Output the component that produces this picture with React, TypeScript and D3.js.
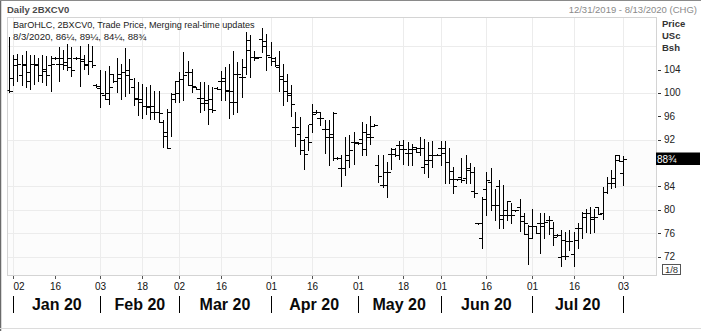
import React from "react";
import * as d3 from "d3";

// ---- categories: trading days (month -> day numbers) ----
const dec2019 = [31];
const jan2020 = [2, 3, 6, 7, 8, 9, 10, 13, 14, 15, 16, 17, 21, 22, 23, 24, 27, 28, 29, 30, 31];
const feb2020 = [3, 4, 5, 6, 7, 10, 11, 12, 13, 14, 18, 19, 20, 21, 24, 25, 26, 27, 28];
const mar2020 = [2, 3, 4, 5, 6, 9, 10, 11, 12, 13, 16, 17, 18, 19, 20, 23, 24, 25, 26, 27, 30, 31];
const apr2020 = [1, 2, 3, 6, 7, 8, 9, 13, 14, 15, 16, 17, 20, 21, 22, 23, 24, 27, 28, 29, 30];
const may2020 = [1, 4, 5, 6, 7, 8, 11, 12, 13, 14, 15, 18, 19, 20, 21, 22, 26, 27, 28, 29];
const jun2020 = [1, 2, 3, 4, 5, 8, 9, 10, 11, 12, 15, 16, 17, 18, 19, 22, 23, 24, 25, 26, 29, 30];
const jul2020 = [1, 2, 6, 7, 8, 9, 10, 13, 14, 15, 16, 17, 20, 21, 22, 23, 24, 27, 28, 29, 30, 31];
const aug2020 = [3];

const pad = (n: number) => (n < 10 ? "0" + n : "" + n);
const tradingDates: string[] = [
  ...dec2019.map((d) => `2019-12-${pad(d)}`),
  ...jan2020.map((d) => `2020-01-${pad(d)}`),
  ...feb2020.map((d) => `2020-02-${pad(d)}`),
  ...mar2020.map((d) => `2020-03-${pad(d)}`),
  ...apr2020.map((d) => `2020-04-${pad(d)}`),
  ...may2020.map((d) => `2020-05-${pad(d)}`),
  ...jun2020.map((d) => `2020-06-${pad(d)}`),
  ...jul2020.map((d) => `2020-07-${pad(d)}`),
  ...aug2020.map((d) => `2020-08-${pad(d)}`),
];

// ---- OHLC series ----
const openVals = [
  100.5, 102.5, 105.8, 103.0, 104.9, 102.1, 104.9, 104.8, 103.0, 103.7, 104.8,
  106.0, 105.0, 106.0, 104.7, 104.4, 106.0, 106.0, 105.4, 104.7, 105.5,
  101.3, 100.8, 99.6, 99.9, 103.2, 102.1, 103.3, 103.6, 103.1, 101.0,
  99.1, 98.4, 97.8, 97.75, 96.8, 96.7, 95.0, 92.7, 96.8, 99.8,
  102.1, 102.3, 103.6, 101.3, 101.0, 99.1, 98.2, 98.7, 97.2, 100.9,
  102.1, 102.1, 100.4, 98.4, 103.3, 102.7, 104.5, 109.0, 106.1, 106.1,
  109.3, 108.0, 106.1, 105.97, 104.4, 102.9, 101.97, 99.7, 94.15, 93.0,
  92.0, 92.5, 94.7, 96.8, 95.7, 93.75, 92.44, 93.0, 88.9, 87.13,
  87.13, 89.3, 91.58, 91.5, 92.15, 93.3, 92.44, 94.4, 87.6, 84.16,
  86.45, 89.6, 90.44, 91.0, 90.44, 89.76, 90.44, 90.73, 90.5, 87.25,
  88.5, 89.4, 89.4, 90.5, 90.5, 88.22, 85.2, 85.2, 85.65, 85.37,
  87.08, 83.26, 77.7, 75.1, 83.5, 84.8, 80.8, 84.06, 78.5, 80.0,
  79.1, 79.9, 80.4, 78.9, 75.8, 77.2, 77.2, 77.7, 77.2, 78.2,
  76.8, 75.67, 72.0, 74.8, 74.7, 72.4, 76.8, 76.8, 78.8, 79.4,
  78.5, 80.4, 79.4, 83.1, 84.6, 85.5, 89.37, 86.25,
];
const highVals = [
  109.5, 106.4, 106.7, 106.4, 107.1, 106.4, 106.4, 106.0, 106.4, 106.3, 106.3,
  106.2, 107.8, 107.3, 108.4, 107.9, 106.2, 108.1, 106.4, 108.3, 108.1,
  101.5, 104.0, 103.8, 104.6, 103.3, 106.0, 105.0, 107.7, 105.85, 102.5,
  101.9, 101.6, 101.0, 101.3, 100.4, 100.4, 95.3, 97.2, 99.9, 102.1,
  103.6, 107.0, 105.4, 104.14, 101.0, 101.86, 101.9, 101.3, 101.0, 101.0,
  103.7, 104.4, 105.0, 107.1, 105.3, 105.85, 110.4, 109.85, 107.2, 106.2,
  111.1, 110.1, 108.7, 106.1, 107.1, 105.0, 103.28, 101.3, 96.7, 95.86,
  92.15, 94.44, 98.15, 97.0, 96.7, 95.29, 95.29, 96.72, 89.0, 89.3,
  92.44, 92.72, 93.3, 91.6, 95.0, 94.72, 95.98, 94.6, 89.4, 89.4,
  88.16, 90.55, 90.6, 91.7, 91.87, 91.58, 91.3, 90.8, 92.4, 92.05,
  91.65, 91.76, 89.5, 91.76, 91.76, 90.5, 87.37, 85.3, 88.8, 89.37,
  87.94, 87.25, 77.8, 82.1, 86.5, 87.1, 83.5, 85.1, 84.2, 81.5,
  81.2, 80.0, 81.9, 79.5, 77.4, 80.06, 77.3, 79.4, 79.4, 78.9,
  77.9, 75.8, 76.5, 76.2, 76.5, 76.2, 77.8, 79.7, 80.06, 80.4,
  80.06, 80.5, 83.9, 85.65, 86.8, 89.37, 89.4, 89.25,
];
const lowVals = [
  100.1, 101.3, 102.0, 101.4, 101.0, 100.7, 101.6, 102.0, 101.9, 101.3, 100.4,
  105.8, 102.1, 104.1, 103.9, 102.9, 105.8, 101.2, 104.1, 103.3, 104.4,
  101.0, 97.6, 98.9, 98.1, 101.8, 100.1, 98.9, 99.5, 99.9, 97.9,
  96.15, 95.7, 96.4, 95.6, 95.5, 95.0, 90.7, 90.55, 92.7, 98.4,
  98.4, 98.7, 101.3, 100.14, 100.7, 96.8, 97.0, 94.7, 96.7, 100.6,
  98.7, 98.7, 95.7, 96.3, 96.7, 99.3, 103.3, 102.7, 105.6, 105.9,
  107.0, 103.85, 104.7, 104.6, 100.4, 97.97, 98.55, 96.0, 90.9, 89.6,
  87.0, 90.27, 93.3, 96.6, 94.44, 89.76, 87.7, 88.44, 88.7, 84.05,
  85.99, 87.3, 87.87, 91.3, 89.4, 89.3, 91.3, 94.3, 84.73, 83.88,
  82.2, 87.0, 89.2, 88.73, 87.87, 87.7, 87.7, 89.8, 89.3, 86.23,
  85.65, 87.25, 89.3, 87.65, 84.63, 84.63, 82.8, 85.1, 84.8, 84.63,
  84.63, 82.12, 77.55, 73.4, 79.1, 79.9, 78.2, 76.8, 76.8, 78.2,
  77.7, 79.8, 76.4, 75.8, 70.8, 75.1, 76.0, 72.6, 75.1, 75.8,
  73.95, 75.5, 70.4, 71.6, 73.1, 70.4, 73.4, 75.1, 76.2, 75.95,
  76.2, 79.2, 78.5, 82.8, 83.8, 83.83, 88.4, 84.25,
];
const closeVals = [
  100.25, 104.8, 104.9, 104.8, 103.5, 104.9, 104.9, 103.0, 104.1, 103.0, 105.0,
  106.0, 105.0, 105.3, 106.0, 104.0, 106.0, 105.85, 104.9, 105.4, 104.7,
  101.1, 100.0, 99.0, 101.0, 102.0, 102.5, 103.5, 104.0, 102.3, 99.0,
  99.0, 97.8, 97.6, 97.8, 96.8, 96.5, 93.3, 90.55, 98.9, 99.9,
  102.3, 103.0, 103.6, 101.2, 100.7, 99.1, 98.2, 99.0, 97.1, 100.7,
  102.5, 100.5, 100.4, 98.4, 103.3, 102.7, 107.4, 106.1, 106.0, 106.1,
  108.9, 106.4, 105.4, 104.7, 102.3, 100.4, 100.0, 98.15, 94.15, 90.3,
  89.5, 91.6, 96.3, 96.7, 95.7, 93.75, 92.44, 96.6, 88.8, 87.13,
  88.5, 90.3, 91.6, 91.4, 90.33, 93.0, 92.4, 94.5, 85.76, 84.2,
  86.45, 89.6, 89.3, 91.0, 90.44, 89.76, 90.44, 89.87, 90.5, 87.9,
  88.5, 89.4, 89.4, 89.76, 88.22, 86.68, 84.06, 85.2, 85.08, 86.8,
  86.51, 82.8, 77.65, 81.8, 85.1, 80.8, 80.8, 79.1, 79.1, 81.5,
  79.1, 79.9, 78.0, 77.7, 75.1, 77.2, 76.07, 77.7, 77.9, 78.2,
  75.3, 75.67, 72.1, 72.1, 74.7, 74.8, 76.8, 79.4, 79.4, 78.7,
  78.8, 79.3, 83.1, 84.6, 84.6, 88.5, 88.4, 88.75,
];

// ---- axes ----
const yTickValues = [104, 100, 96, 92, 88, 84, 80, 76, 72];
const yGridValues = [108, 100, 92, 84, 80, 76, 72];
const xTickDates = [
  "2020-01-02", "2020-01-16", "2020-02-03", "2020-02-18", "2020-03-02", "2020-03-16",
  "2020-04-01", "2020-04-16", "2020-05-01", "2020-05-18", "2020-06-01", "2020-06-16",
  "2020-07-01", "2020-07-16", "2020-08-03",
];
const xGridDates = [
  "2020-01-02", "2020-02-03", "2020-02-18", "2020-03-02", "2020-03-16",
  "2020-04-01", "2020-04-16", "2020-05-18", "2020-06-01", "2020-06-16",
  "2020-07-01", "2020-07-16", "2020-08-03",
];
const monthStarts = ["2020-01-02", "2020-02-03", "2020-03-02", "2020-04-01", "2020-05-01", "2020-06-01", "2020-07-01", "2020-08-03"];
const monthLabels = ["Jan 20", "Feb 20", "Mar 20", "Apr 20", "May 20", "Jun 20", "Jul 20"];

const FONT = "'Liberation Sans', Arial, sans-serif";

export default function App() {
  const W = 701;
  const H = 331;
  const P = { l: 7.5, t: 17.5, r: 656.5, b: 275.5 };

  const x = d3.scaleLinear().domain([0, tradingDates.length - 1]).range([9.15, 623.3]);
  const y = d3.scaleLinear().domain([72, 104]).range([256.5, 69.5]);
  const idx = (d: string) => tradingDates.indexOf(d);
  const sx = (i: number) => Math.round(x(i)) + 0.5;
  const sy = (v: number) => Math.round(y(v)) + 0.5;

  const bars = tradingDates.map((d, i) => ({
    i,
    o: openVals[i],
    h: highVals[i],
    l: lowVals[i],
    c: closeVals[i],
  }));

  const last = bars[bars.length - 1];
  const boxY = Math.round(y(last.c)) - 6.5;

  return (
    <svg
      width={W}
      height={H}
      viewBox={`0 0 ${W} ${H}`}
      style={{ position: "absolute", left: 0, top: 0, background: "#ffffff" }}
      fontFamily={FONT}
    >
      <defs>
        <clipPath id="plotClip">
          <rect x={P.l} y={P.t} width={P.r - P.l} height={P.b - P.t} />
        </clipPath>
      </defs>
      <rect x={0} y={0} width={W} height={H} fill="#ffffff" />
      <rect x={P.l} y={sy(92)} width={P.r - P.l} height={P.b - sy(92)} fill="#fcfcfc" />

      {/* grid */}
      <g stroke="#ececec" strokeWidth={1} shapeRendering="crispEdges">
        {yGridValues.map((v) => (
          <line key={"gy" + v} x1={P.l} x2={P.r} y1={sy(v)} y2={sy(v)} />
        ))}
        {xGridDates.map((d) => (
          <line key={"gx" + d} x1={sx(idx(d))} x2={sx(idx(d))} y1={P.t} y2={P.b} />
        ))}
      </g>

      {/* plot frame */}
      <rect x={P.l} y={P.t} width={P.r - P.l} height={P.b - P.t} fill="none" stroke="#d4d4d4" strokeWidth={1} shapeRendering="crispEdges" />

      {/* OHLC bars */}
      <g clipPath="url(#plotClip)" stroke="#000" strokeWidth={1} shapeRendering="crispEdges">
        {bars.map((b) => {
          const cx = sx(b.i);
          return (
            <g key={b.i}>
              <line x1={cx} x2={cx} y1={sy(b.h) - 0.5} y2={sy(b.l) + 0.5} />
              <line x1={cx - 3.5} x2={cx} y1={sy(b.o)} y2={sy(b.o)} />
              <line x1={cx} x2={cx + 3.5} y1={sy(b.c)} y2={sy(b.c)} />
            </g>
          );
        })}
      </g>

      {/* legend */}
      <text x={13} y={28} fontSize={9.1} fill="#1a1a1a">BarOHLC, 2BXCV0, Trade Price, Merging real-time updates</text>
      <text x={13} y={40} fontSize={9.6} fill="#1a1a1a">8/3/2020, 86¼, 89¼, 84¼, 88¾</text>

      {/* header */}
      <text x={7} y={12.5} fontSize={9.5} fontWeight={700} fill="#4a4a4a">Daily 2BXCV0</text>
      <text x={697} y={13} fontSize={9.5} fill="#8a8a8a" textAnchor="end">12/31/2019 - 8/13/2020 (CHG)</text>

      {/* right axis title */}
      <g fontSize={9.5} fontWeight={700} fill="#333">
        <text x={662} y={27}>Price</text>
        <text x={662} y={39}>USc</text>
        <text x={662} y={51}>Bsh</text>
      </g>

      {/* y ticks (the 88 label sits under the last-price box) */}
      <g fontSize={10} fill="#222">
        {yTickValues.map((v) => (
          <g key={"yt" + v}>
            <line x1={658} x2={661} y1={sy(v)} y2={sy(v)} stroke="#333" strokeWidth={1} shapeRendering="crispEdges" />
            {Math.abs(y(v) - (boxY + 6)) > 8 ? (
              <text x={664} y={y(v)} dy="0.35em">{v}</text>
            ) : null}
          </g>
        ))}
      </g>

      {/* last price box */}
      <rect x={656} y={boxY} width={44} height={12.5} fill="#000" />
      <text x={657} y={boxY + 10.5} fontSize={10} fill="#fff">88¾</text>

      {/* 1/8 box */}
      <rect x={662.5} y={264.5} width={18} height={10} fill="#fff" stroke="#555" strokeWidth={1} shapeRendering="crispEdges" />
      <text x={671.5} y={273} fontSize={9.5} fill="#333" textAnchor="middle">1/8</text>

      {/* x ticks */}
      <g>
        {xTickDates.map((d) => {
          const px = sx(idx(d));
          return (
            <g key={"xt" + d}>
              <line x1={px} x2={px} y1={P.b} y2={P.b + 3} stroke="#555" strokeWidth={1} shapeRendering="crispEdges" />
              <text x={Math.max(px, 19)} y={290} fontSize={10} fill="#111" textAnchor="middle">
                {d.slice(8, 10)}
              </text>
            </g>
          );
        })}
      </g>

      {/* month separators and labels */}
      <g>
        {monthStarts.map((d) => (
          <line key={"ms" + d} x1={sx(idx(d))} x2={sx(idx(d))} y1={296} y2={313} stroke="#000" strokeWidth={1} shapeRendering="crispEdges" />
        ))}
        {monthLabels.map((m, k) => {
          const a = x(idx(monthStarts[k]));
          const b = x(idx(monthStarts[k + 1]));
          return (
            <text key={"ml" + m} x={(a + b) / 2} y={310} fontSize={16} fontWeight={700} fill="#0a0a0a" textAnchor="middle">
              {m}
            </text>
          );
        })}
      </g>

      {/* outer frame */}
      <line x1={0.5} x2={0.5} y1={0} y2={H} stroke="#6a6a6a" strokeWidth={1.5} />
      <line x1={0} x2={W} y1={0.5} y2={0.5} stroke="#8a8a8a" strokeWidth={1} />
      <line x1={0} x2={W} y1={328.5} y2={328.5} stroke="#dcdcdc" strokeWidth={1} />
    </svg>
  );
}
